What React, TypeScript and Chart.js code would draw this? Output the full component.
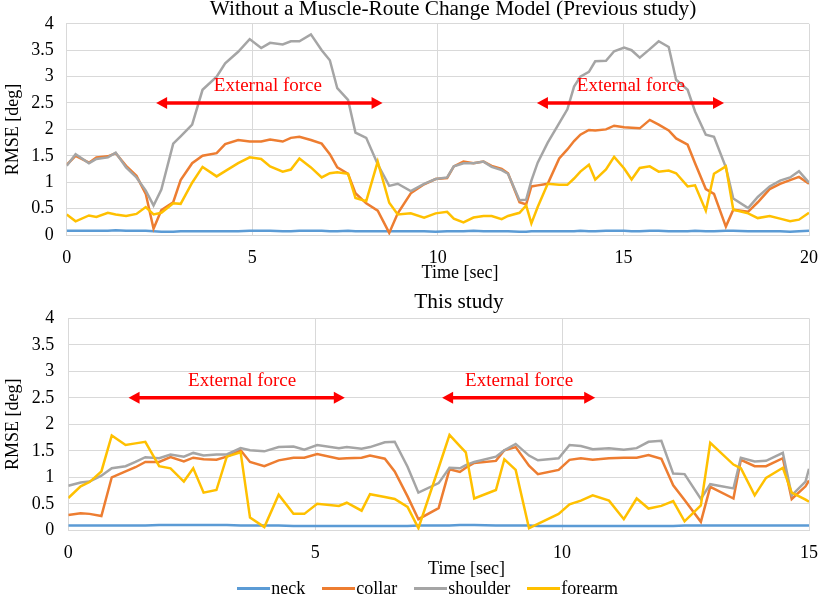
import { useEffect, useRef } from "react";
import Chart from "chart.js/auto";

const SERIES_NAMES = ["neck", "collar", "shoulder", "forearm"];
const SERIES_COLORS = ["#5B9BD5", "#ED7D31", "#A5A5A5", "#FFC000"];
const Y_TICKS = [0, 0.5, 1, 1.5, 2, 2.5, 3, 3.5, 4];

// Without a Muscle-Route Change Model (Previous study)
const prevTime = [
  0, 0.24, 0.6, 0.8, 1.11, 1.32, 1.6, 1.88, 2.13, 2.34,
  2.55, 2.87, 3.07, 3.38, 3.66, 4.04, 4.27, 4.62, 4.93, 5.24,
  5.48, 5.82, 6.04, 6.27, 6.58, 6.87, 7.09, 7.29, 7.58, 7.78,
  8.07, 8.38, 8.69, 8.92, 9.27, 9.63, 9.94, 10.25, 10.43, 10.69,
  10.96, 11.23, 11.45, 11.72, 11.89, 12.2, 12.38, 12.52, 12.69, 12.96,
  13.27, 13.49, 13.67, 13.84, 14.07, 14.24, 14.53, 14.75, 15.02, 15.22,
  15.44, 15.71, 15.95, 16.22, 16.42, 16.73, 16.93, 17.22, 17.44, 17.76,
  17.96, 18.36, 18.62, 18.94, 19.22, 19.49, 19.73, 20,
];
const prevNeck = [
  0.08, 0.08, 0.08, 0.08, 0.08, 0.09, 0.08, 0.08, 0.08, 0.07,
  0.06, 0.06, 0.07, 0.07, 0.07, 0.07, 0.07, 0.07, 0.08, 0.08,
  0.08, 0.07, 0.07, 0.08, 0.08, 0.08, 0.07, 0.07, 0.08, 0.07,
  0.07, 0.07, 0.07, 0.07, 0.07, 0.07, 0.06, 0.07, 0.07, 0.07,
  0.08, 0.07, 0.07, 0.07, 0.07, 0.06, 0.06, 0.07, 0.07, 0.07,
  0.07, 0.07, 0.07, 0.08, 0.07, 0.07, 0.08, 0.08, 0.08, 0.07,
  0.07, 0.08, 0.08, 0.07, 0.07, 0.07, 0.08, 0.07, 0.07, 0.08,
  0.08, 0.07, 0.07, 0.07, 0.07, 0.06, 0.07, 0.08,
];
const prevCollar = [
  1.33, 1.5, 1.37, 1.47, 1.49, 1.55, 1.31, 1.12, 0.78, 0.12,
  0.47, 0.62, 1.04, 1.36, 1.5, 1.55, 1.72, 1.8, 1.77, 1.77,
  1.81, 1.77, 1.84, 1.86, 1.8, 1.73, 1.53, 1.28, 1.16, 0.79,
  0.6, 0.46, 0.04, 0.41, 0.79, 0.96, 1.06, 1.08, 1.3, 1.39,
  1.36, 1.39, 1.31, 1.25, 1.17, 0.62, 0.58, 0.92, 0.94, 0.97,
  1.45, 1.62, 1.78, 1.9, 1.99, 1.98, 2.0, 2.07, 2.04, 2.03,
  2.02, 2.18, 2.09, 1.98, 1.83, 1.71, 1.36, 0.87, 0.78, 0.16,
  0.48, 0.44, 0.62, 0.87, 0.97, 1.04, 1.1, 0.97,
];
const prevShoulder = [
  1.31, 1.53, 1.36, 1.44, 1.47, 1.56, 1.28, 1.09, 0.84, 0.56,
  0.86, 1.73, 1.87, 2.09, 2.75, 3.0, 3.25, 3.47, 3.71, 3.54,
  3.64, 3.61, 3.67, 3.67, 3.8, 3.5, 3.31, 2.78, 2.56, 1.94,
  1.84, 1.34, 0.93, 0.97, 0.83, 0.97, 1.06, 1.09, 1.3, 1.36,
  1.36, 1.39, 1.29, 1.23, 1.16, 0.66, 0.67, 1.03, 1.37, 1.75,
  2.12, 2.38, 2.81, 3.0, 3.09, 3.29, 3.3, 3.48, 3.55, 3.5,
  3.36, 3.52, 3.67, 3.56, 2.94, 2.75, 2.34, 1.9, 1.86, 1.28,
  0.69, 0.51, 0.72, 0.92, 1.03, 1.09, 1.21, 0.99,
];
const prevForearm = [
  0.39, 0.26, 0.37, 0.34, 0.42, 0.39, 0.36, 0.4, 0.53, 0.39,
  0.42, 0.6, 0.59, 0.99, 1.29, 1.11, 1.21, 1.36, 1.47, 1.44,
  1.3, 1.2, 1.24, 1.45, 1.28, 1.09, 1.17, 1.19, 1.16, 0.7,
  0.64, 1.39, 0.61, 0.39, 0.41, 0.33, 0.41, 0.44, 0.31, 0.24,
  0.33, 0.36, 0.36, 0.3, 0.36, 0.42, 0.56, 0.22, 0.53, 0.97,
  0.95, 0.95, 1.07, 1.2, 1.33, 1.05, 1.24, 1.48, 1.26, 1.05,
  1.27, 1.3, 1.2, 1.22, 1.17, 0.92, 0.94, 0.46, 1.16, 1.3,
  0.48, 0.41, 0.32, 0.36, 0.31, 0.26, 0.29, 0.42,
];
const prevForceFrom = [2.41, 12.67];
const prevForceTo = [8.51, 17.71];
const prevForceLabelAt = [5.42, 15.2];

// This study
const thisTime = [
  0, 0.25, 0.43, 0.67, 0.88, 1.16, 1.36, 1.56, 1.84, 2.07,
  2.34, 2.53, 2.74, 3.0, 3.21, 3.49, 3.68, 3.97, 4.26, 4.56,
  4.78, 5.04, 5.48, 5.64, 5.94, 6.11, 6.41, 6.61, 6.87, 7.09,
  7.5, 7.72, 7.93, 8.05, 8.22, 8.66, 8.83, 9.06, 9.33, 9.51,
  9.93, 10.15, 10.38, 10.62, 10.95, 11.25, 11.51, 11.75, 12.01, 12.25,
  12.48, 12.81, 13.0, 13.47, 13.62, 13.9, 14.13, 14.47, 14.65, 14.93, 15,
];
const thisNeck = [
  0.09, 0.09, 0.09, 0.09, 0.09, 0.09, 0.09, 0.09, 0.1, 0.1,
  0.1, 0.1, 0.1, 0.1, 0.1, 0.09, 0.09, 0.09, 0.09, 0.08,
  0.08, 0.08, 0.08, 0.08, 0.08, 0.08, 0.08, 0.08, 0.08, 0.09,
  0.09, 0.09, 0.1, 0.1, 0.1, 0.09, 0.09, 0.09, 0.09, 0.08,
  0.08, 0.08, 0.08, 0.08, 0.08, 0.08, 0.08, 0.08, 0.08, 0.08,
  0.09, 0.09, 0.09, 0.09, 0.09, 0.09, 0.09, 0.09, 0.09, 0.09, 0.09,
];
const thisCollar = [
  0.29, 0.32, 0.31, 0.27, 1.0, 1.11, 1.19, 1.29, 1.29, 1.38,
  1.3, 1.37, 1.34, 1.33, 1.39, 1.51, 1.29, 1.21, 1.32, 1.37,
  1.37, 1.44, 1.35, 1.36, 1.37, 1.41, 1.35, 1.11, 0.64, 0.21,
  0.42, 1.15, 1.1, 1.18, 1.27, 1.31, 1.51, 1.57, 1.22, 1.06,
  1.14, 1.33, 1.36, 1.33, 1.36, 1.37, 1.37, 1.42, 1.35, 0.85,
  0.57, 0.16, 0.82, 0.6, 1.33, 1.21, 1.21, 1.36, 0.59, 0.83, 0.94,
];
const thisShoulder = [
  0.84, 0.9, 0.92, 1.03, 1.17, 1.21, 1.29, 1.38, 1.36, 1.43,
  1.39, 1.46, 1.41, 1.43, 1.43, 1.55, 1.51, 1.49, 1.57, 1.58,
  1.52, 1.61, 1.55, 1.57, 1.54, 1.57, 1.66, 1.67, 1.2, 0.71,
  0.89, 1.18, 1.17, 1.23, 1.29, 1.39, 1.51, 1.63, 1.41, 1.32,
  1.36, 1.61, 1.59, 1.53, 1.55, 1.52, 1.55, 1.67, 1.69, 1.07,
  1.06, 0.59, 0.87, 0.79, 1.37, 1.3, 1.31, 1.46, 0.66, 0.92, 1.16,
];
const thisForearm = [
  0.61, 0.83, 0.91, 1.11, 1.79, 1.61, 1.64, 1.67, 1.21, 1.17,
  0.92, 1.17, 0.71, 0.76, 1.39, 1.47, 0.24, 0.06, 0.67, 0.31,
  0.31, 0.5, 0.46, 0.52, 0.37, 0.68, 0.63, 0.59, 0.44, 0.04,
  1.18, 1.8, 1.59, 1.47, 0.6, 0.76, 1.34, 1.14, 0.04, 0.12,
  0.31, 0.49, 0.56, 0.66, 0.56, 0.21, 0.6, 0.41, 0.46, 0.55,
  0.17, 0.47, 1.65, 1.24, 1.17, 0.66, 0.99, 1.18, 0.71, 0.58, 0.54,
];
const thisForceFrom = [1.22, 7.57];
const thisForceTo = [5.6, 10.67];
const thisForceLabelAt = [3.52, 9.13];

const FORCE_LEVEL = 2.5;
const FORCE_LABEL_LEVEL = 2.72;
const FORCE_TEXT = "External force";
const FORCE_COLOR = "#FF0000";

const SERIF = "'Liberation Serif', 'Times New Roman', serif";
const GRID = "#D9D9D9";

type PanelProps = {
  title: string;
  time: number[];
  series: number[][];
  xMax: number;
  forceFrom: number[];
  forceTo: number[];
  forceLabelAt: number[];
  width: number;
  height: number;
  plotLeft: number;
  plotRight: number;
  plotTop: number;
  plotBottom: number;
  titleX: number;
  titleY: number;
  xTitleX: number;
  xTitleY: number;
  yTickPad: number;
};

function Panel(p: PanelProps) {
  const chartRef = useRef<HTMLCanvasElement>(null);
  const chartInstance = useRef<Chart | null>(null);

  useEffect(() => {
    if (chartInstance.current) {
      chartInstance.current.destroy();
    }
    const ctx = chartRef.current?.getContext("2d");
    if (!ctx) return;

    // arrows, "External force" labels, chart title and x-axis title
    const overlay = {
      id: "overlay",
      afterDatasetsDraw(chart: Chart) {
        const c = chart.ctx;
        const xs = chart.scales.x;
        const ys = chart.scales.y;
        const head = 11;
        const half = 6;
        c.save();
        c.strokeStyle = FORCE_COLOR;
        c.fillStyle = FORCE_COLOR;
        p.forceFrom.forEach((from, i) => {
          const x1 = xs.getPixelForValue(from);
          const x2 = xs.getPixelForValue(p.forceTo[i]);
          const py = ys.getPixelForValue(FORCE_LEVEL);
          c.lineWidth = 3.5;
          c.beginPath();
          c.moveTo(x1 + head - 1, py);
          c.lineTo(x2 - head + 1, py);
          c.stroke();
          c.beginPath();
          c.moveTo(x1, py);
          c.lineTo(x1 + head, py - half);
          c.lineTo(x1 + head, py + half);
          c.closePath();
          c.fill();
          c.beginPath();
          c.moveTo(x2, py);
          c.lineTo(x2 - head, py - half);
          c.lineTo(x2 - head, py + half);
          c.closePath();
          c.fill();
          c.font = `19px ${SERIF}`;
          c.textAlign = "center";
          c.textBaseline = "alphabetic";
          c.fillText(
            FORCE_TEXT,
            xs.getPixelForValue(p.forceLabelAt[i]),
            ys.getPixelForValue(FORCE_LABEL_LEVEL)
          );
        });
        c.fillStyle = "#000";
        c.textAlign = "center";
        c.textBaseline = "alphabetic";
        c.font = `21.3px ${SERIF}`;
        c.fillText(p.title, p.titleX, p.titleY);
        c.font = `18px ${SERIF}`;
        c.fillText("Time [sec]", p.xTitleX, p.xTitleY);
        c.restore();
      },
    };

    chartInstance.current = new Chart(ctx, {
      type: "line",
      data: {
        datasets: SERIES_NAMES.map((name, s) => ({
          label: name,
          data: p.time.map((t, i) => ({ x: t, y: p.series[s][i] })),
          borderColor: SERIES_COLORS[s],
          backgroundColor: SERIES_COLORS[s],
          borderWidth: 2.5,
          pointRadius: 0,
          tension: 0,
          fill: false,
          order: SERIES_NAMES.length - 1 - s, // forearm on top
        })),
      },
      options: {
        animation: false,
        responsive: false,
        events: [],
        layout: {
          padding: {
            left: 0,
            right: p.width - p.plotRight,
            top: p.plotTop,
            bottom: 0,
          },
        },
        plugins: {
          legend: { display: false },
          tooltip: { enabled: false },
        },
        scales: {
          x: {
            type: "linear",
            min: 0,
            max: p.xMax,
            afterFit: (scale: any) => {
              scale.height = p.height - p.plotBottom;
            },
            ticks: {
              stepSize: 5,
              maxRotation: 0,
              padding: 12,
              color: "#000",
              font: { family: SERIF, size: 18 },
              callback: (v: any) => String(v),
            },
            grid: { color: GRID, drawTicks: false },
            border: { color: GRID },
          },
          y: {
            min: 0,
            max: 4,
            afterFit: (scale: any) => {
              scale.width = p.plotLeft;
            },
            afterBuildTicks: (scale: any) => {
              scale.ticks = Y_TICKS.map((v) => ({ value: v }));
            },
            ticks: {
              padding: p.yTickPad,
              color: "#000",
              font: { family: SERIF, size: 18 },
              callback: (v: any) => String(v),
            },
            grid: { color: GRID, drawTicks: false },
            border: { color: GRID },
            title: {
              display: true,
              text: "RMSE [deg]",
              color: "#000",
              font: { family: SERIF, size: 18 },
              padding: { top: 2, bottom: 0 },
            },
          },
        },
      },
      plugins: [overlay],
    });

    return () => {
      if (chartInstance.current) {
        chartInstance.current.destroy();
        chartInstance.current = null;
      }
    };
  }, []);

  return (
    <canvas
      ref={chartRef}
      width={p.width}
      height={p.height}
      style={{ display: "block", width: p.width, height: p.height }}
    />
  );
}

export default function App() {
  return (
    <div
      style={{
        position: "absolute",
        left: 0,
        top: 0,
        width: 830,
        height: 597,
        background: "#fff",
        overflow: "hidden",
      }}
    >
      <Panel
        title="Without a Muscle-Route Change Model (Previous study)"
        time={prevTime}
        series={[prevNeck, prevCollar, prevShoulder, prevForearm]}
        xMax={20}
        forceFrom={prevForceFrom}
        forceTo={prevForceTo}
        forceLabelAt={prevForceLabelAt}
        width={830}
        height={290}
        plotLeft={66.7}
        plotRight={817}
        plotTop={22.7}
        plotBottom={235}
        titleX={453}
        titleY={15}
        xTitleX={460}
        xTitleY={278}
        yTickPad={13}
      />
      <Panel
        title="This study"
        time={thisTime}
        series={[thisNeck, thisCollar, thisShoulder, thisForearm]}
        xMax={15}
        forceFrom={thisForceFrom}
        forceTo={thisForceTo}
        forceLabelAt={thisForceLabelAt}
        width={830}
        height={307}
        plotLeft={68.3}
        plotRight={821.7}
        plotTop={28.3}
        plotBottom={240.3}
        titleX={459}
        titleY={18.3}
        xTitleX={466.5}
        xTitleY={284.3}
        yTickPad={14}
      />
      <div
        style={{
          position: "absolute",
          left: 236.7,
          top: 579,
          display: "flex",
          alignItems: "center",
          gap: 16.5,
          fontFamily: SERIF,
          fontSize: 18,
          lineHeight: "19px",
          color: "#000",
          whiteSpace: "nowrap",
        }}
      >
        {SERIES_NAMES.map((name, s) => (
          <div key={name} style={{ display: "flex", alignItems: "center" }}>
            <span
              style={{
                display: "inline-block",
                width: 33,
                height: 2.5,
                background: SERIES_COLORS[s],
                marginRight: 1.5,
              }}
            />
            <span>{name}</span>
          </div>
        ))}
      </div>
    </div>
  );
}
